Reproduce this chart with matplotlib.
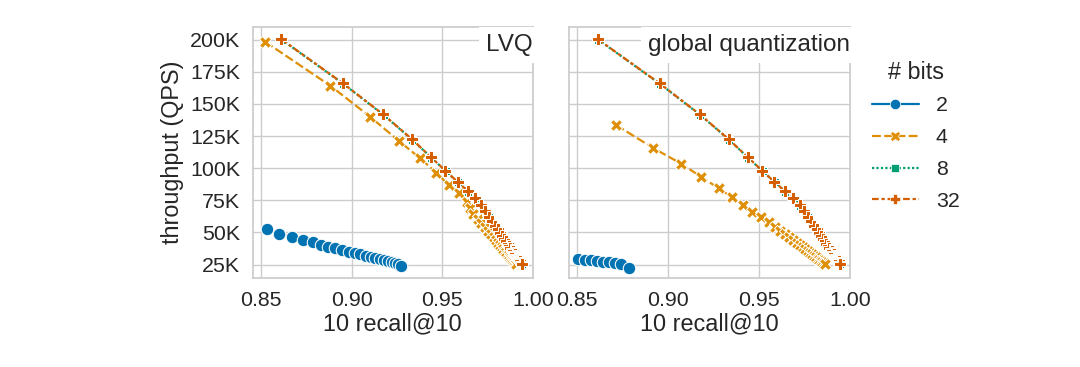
import matplotlib
matplotlib.use("Agg")
import matplotlib.pyplot as plt
import seaborn as sns
from matplotlib.ticker import FuncFormatter, MultipleLocator
from matplotlib.lines import Line2D

sns.set_theme(style="whitegrid")
plt.rcParams['font.family'] = ['Liberation Sans', 'DejaVu Sans']

bits_labels = ["2", "4", "8", "32"]
colors = ["#0173b2", "#de8f05", "#029e73", "#d55e00"]
markers = ["o", "X", (4, 0, 45), "P"]
dashes = [(None, None), (4, 1.5), (1, 1), (3, 1.25, 1.5, 1.25)]

# ---- LVQ panel ----
lvq2_recall = [0.8533, 0.8601, 0.8669, 0.8732, 0.8785, 0.8831, 0.8872, 0.8910, 0.8947, 0.8984,
               0.9017, 0.9049, 0.9078, 0.9106, 0.9131, 0.9155, 0.9180, 0.9202, 0.9222, 0.9240,
               0.9257, 0.9273]
lvq2_qps = [52.4, 49.0, 46.4, 44.3, 42.3, 40.4, 38.8, 37.6, 36.3, 35.0,
            33.9, 32.9, 31.8, 31.1, 30.3, 29.5, 28.7, 28.0, 27.2, 26.4,
            25.6, 24.1]

lvq4_recall = [0.8524, 0.8883, 0.9102, 0.9260, 0.9378, 0.9468, 0.9535, 0.9590, 0.9636, 0.9655,
               0.9671, 0.9695, 0.9716, 0.9736, 0.9753, 0.9769, 0.9783, 0.9796, 0.9807, 0.9818,
               0.9828, 0.9837, 0.9846, 0.9854, 0.9861, 0.9868, 0.9874, 0.9880, 0.9885, 0.9891,
               0.9896, 0.9900, 0.9904, 0.9908]
lvq4_qps = [198.3, 164.1, 140.0, 121.3, 107.6, 96.4, 86.8, 80.4, 73.9, 69.0,
            64.5, 60.5, 57.0, 53.8, 51.0, 48.4, 46.1, 44.0, 42.1, 40.3,
            38.7, 37.2, 35.8, 34.5, 33.3, 32.2, 31.1, 30.2, 29.3, 28.4,
            27.6, 26.9, 26.2, 25.5]

lvq8_recall = [0.8614, 0.8955, 0.9176, 0.9334, 0.9439, 0.9519, 0.9586, 0.9643, 0.9684, 0.9717,
               0.9740, 0.9760, 0.9778, 0.9794, 0.9808, 0.9821, 0.9833, 0.9843, 0.9853, 0.9862,
               0.9870, 0.9878, 0.9885, 0.9891, 0.9897, 0.9903, 0.9908, 0.9913, 0.9918, 0.9922,
               0.9926, 0.9930, 0.9934, 0.9939]
lvq8_qps = [200.0, 165.5, 141.4, 122.2, 108.2, 97.6, 89.0, 81.8, 76.1, 70.9,
            66.0, 61.8, 58.1, 54.8, 51.9, 49.2, 46.8, 44.7, 42.7, 40.9,
            39.2, 37.7, 36.2, 34.9, 33.7, 32.5, 31.5, 30.5, 29.5, 28.6,
            27.8, 27.0, 26.1, 25.3]

lvq32_recall = [0.8612, 0.8953, 0.9174, 0.9332, 0.9437, 0.9517, 0.9584, 0.9641, 0.9682, 0.9715,
                0.9738, 0.9758, 0.9776, 0.9792, 0.9806, 0.9819, 0.9831, 0.9841, 0.9851, 0.9860,
                0.9868, 0.9876, 0.9883, 0.9889, 0.9895, 0.9901, 0.9906, 0.9911, 0.9916, 0.9920,
                0.9924, 0.9928, 0.9932, 0.9937]
lvq32_qps = [200.4, 165.9, 141.8, 122.6, 108.6, 98.0, 89.4, 82.2, 76.5, 71.3,
             66.4, 62.2, 58.5, 55.2, 52.3, 49.6, 47.2, 45.1, 43.1, 41.3,
             39.6, 38.1, 36.6, 35.3, 34.1, 32.9, 31.9, 30.9, 29.9, 29.0,
             28.2, 27.4, 26.5, 25.6]

# ---- global quantization panel ----
gq2_recall = [0.8506, 0.8541, 0.8574, 0.8608, 0.8641, 0.8675, 0.8709, 0.8742, 0.8783]
gq2_qps = [29.3, 28.8, 28.3, 27.7, 27.2, 26.7, 25.9, 25.2, 22.5]

gq4_recall = [0.8714, 0.8915, 0.9072, 0.9183, 0.9278, 0.9351, 0.9409, 0.9462, 0.9509, 0.9552,
              0.9586, 0.9614, 0.9641, 0.9664, 0.9685, 0.9706, 0.9723, 0.9739, 0.9754, 0.9768,
              0.9780, 0.9792, 0.9804, 0.9813, 0.9823, 0.9831, 0.9840, 0.9848, 0.9855, 0.9865]
gq4_qps = [133.5, 115.8, 103.4, 93.0, 84.3, 77.3, 71.3, 66.1, 61.7, 57.8,
           54.3, 51.3, 48.5, 46.1, 43.9, 41.8, 40.0, 38.3, 36.8, 35.3,
           34.0, 32.8, 31.6, 30.6, 29.6, 28.7, 27.8, 27.0, 26.2, 25.2]

gq8_recall = [0.8614, 0.8955, 0.9176, 0.9334, 0.9439, 0.9519, 0.9586, 0.9643, 0.9690, 0.9727,
              0.9750, 0.9770, 0.9788, 0.9804, 0.9818, 0.9831, 0.9843, 0.9853, 0.9863, 0.9872,
              0.9880, 0.9888, 0.9895, 0.9901, 0.9907, 0.9913, 0.9918, 0.9923, 0.9928, 0.9932,
              0.9936, 0.9940, 0.9944, 0.9947]
gq8_qps = [200.0, 165.5, 141.4, 122.2, 108.2, 97.6, 89.0, 81.8, 76.1, 70.9,
           66.0, 61.8, 58.1, 54.8, 51.9, 49.2, 46.8, 44.7, 42.7, 40.9,
           39.2, 37.7, 36.2, 34.9, 33.7, 32.5, 31.5, 30.5, 29.5, 28.6,
           27.8, 27.0, 26.1, 25.3]

gq32_recall = [0.8612, 0.8953, 0.9174, 0.9332, 0.9437, 0.9517, 0.9584, 0.9641, 0.9688, 0.9725,
               0.9748, 0.9768, 0.9786, 0.9802, 0.9816, 0.9829, 0.9841, 0.9851, 0.9861, 0.9870,
               0.9878, 0.9886, 0.9893, 0.9899, 0.9905, 0.9911, 0.9916, 0.9921, 0.9926, 0.9930,
               0.9934, 0.9938, 0.9942, 0.9945]
gq32_qps = [200.4, 165.9, 141.8, 122.6, 108.6, 98.0, 89.4, 82.2, 76.5, 71.3,
            66.4, 62.2, 58.5, 55.2, 52.3, 49.6, 47.2, 45.1, 43.1, 41.3,
            39.6, 38.1, 36.6, 35.3, 34.1, 32.9, 31.9, 30.9, 29.9, 29.0,
            28.2, 27.4, 26.5, 25.6]

panels = [
    ("LVQ", [(lvq2_recall, lvq2_qps), (lvq4_recall, lvq4_qps),
             (lvq8_recall, lvq8_qps), (lvq32_recall, lvq32_qps)]),
    ("global quantization", [(gq2_recall, gq2_qps), (gq4_recall, gq4_qps),
                             (gq8_recall, gq8_qps), (gq32_recall, gq32_qps)]),
]

fig = plt.figure(figsize=(10.8, 3.67), dpi=100)
ax1 = fig.add_axes([0.234, 0.2425, 0.2595, 0.6835])
ax2 = fig.add_axes([0.527, 0.2425, 0.260, 0.6835], sharey=ax1)
axes = [ax1, ax2]

TICK = 15.4
LABEL = 16.8
TXT = "#262626"

for ax, (name, series) in zip(axes, panels):
    for (rec, qps), col, mk, ds in zip(series, colors, markers, dashes):
        line, = ax.plot(rec, [q * 1000 for q in qps], color=col, marker=mk,
                        ms=9, mec="w", mew=0.75, lw=1.6)
        if ds[0] is not None:
            line.set_dashes(ds)
    ax.set_xlim(0.8455, 1.0)
    ax.set_ylim(14.5e3, 209.7e3)
    ax.xaxis.set_major_locator(MultipleLocator(0.05))
    ax.yaxis.set_major_locator(MultipleLocator(25000))
    ax.xaxis.set_major_formatter(FuncFormatter(lambda v, p: f"{v:.2f}"))
    ax.yaxis.set_major_formatter(FuncFormatter(lambda v, p: f"{int(round(v / 1000))}K"))
    ax.tick_params(labelsize=TICK, pad=3, colors=TXT)
    ax.set_xlabel("10 recall@10", fontsize=LABEL, labelpad=2, color=TXT)
    ax.text(1.0, 0.905, name, transform=ax.transAxes, ha="right", va="baseline",
            fontsize=17.5, color=TXT,
            bbox=dict(boxstyle="square,pad=0.3", facecolor="white", edgecolor="none"))
    for s in ax.spines.values():
        s.set_color(".8")

ax1.set_ylabel("throughput (QPS)", fontsize=LABEL, labelpad=4, color=TXT)
plt.setp(ax2.get_yticklabels(), visible=False)
ax2.tick_params(axis="y", length=0)

handles = []
for lab, col, mk, ds in zip(bits_labels, colors, markers, dashes):
    h = Line2D([], [], color=col, marker=mk, ms=7.5, mec="w", mew=0.5, lw=1.6)
    if ds[0] is not None:
        h.set_dashes(ds)
    handles.append(h)
leg = fig.legend(handles, bits_labels, title="# bits", loc="upper left",
                 bbox_to_anchor=(863 / 1080, 1 - 52 / 367), frameon=False,
                 fontsize=TICK, title_fontsize=LABEL, handlelength=2.2,
                 handletextpad=0.8, labelspacing=0.6, borderaxespad=0)
for t in leg.get_texts():
    t.set_color(TXT)
leg.get_title().set_color(TXT)

fig.savefig("out.png", dpi=100)
